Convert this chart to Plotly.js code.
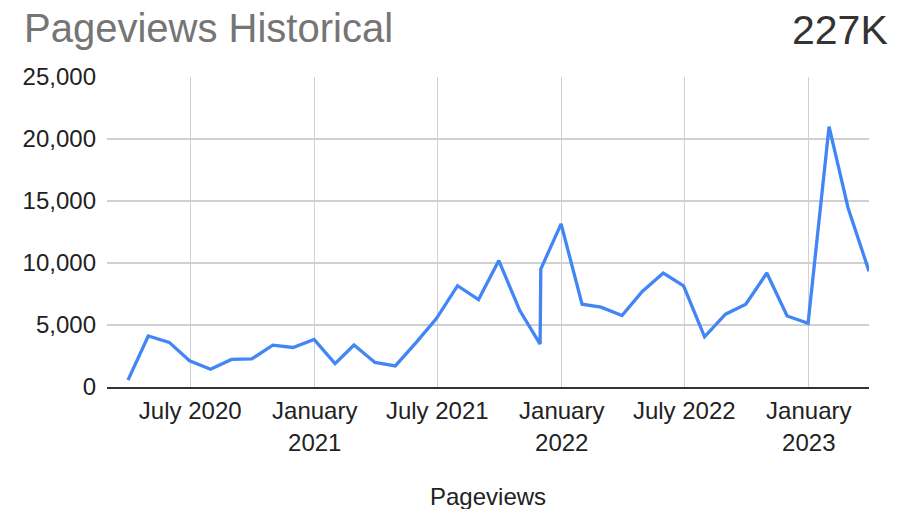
<!DOCTYPE html>
<html>
<head>
<meta charset="utf-8">
<script src="https://cdn.plot.ly/plotly-3.0.1.min.js"></script>
<style>html,body{margin:0;padding:0;background:#fff;}#chart{width:899px;height:509px;}</style>
</head>
<body>
<div id="chart"></div>
<script>
const dates = [
  "2020-03-31","2020-04-30","2020-05-31","2020-06-30","2020-07-31","2020-08-31","2020-09-30","2020-10-31","2020-11-30","2020-12-31",
  "2021-01-31","2021-02-28","2021-03-31","2021-04-30","2021-05-31","2021-06-30","2021-07-31","2021-08-31","2021-09-30","2021-10-31",
  "2021-11-30","2021-12-01","2021-12-31","2022-01-31","2022-02-28","2022-03-31","2022-04-30","2022-05-31","2022-06-30","2022-07-31",
  "2022-08-31","2022-09-30","2022-10-31","2022-11-30","2022-12-31","2023-01-31","2023-02-28","2023-03-31"
];
const pageviews = [
  550,4110,3600,2110,1430,2220,2270,3380,3190,3840,
  1890,3380,1980,1700,3600,5540,8170,7050,10200,6160,
  3460,9510,13150,6680,6440,5760,7700,9190,8160,4050,
  5870,6680,9190,5730,5140,21000,14460,9330
];
const tickDates = ["2020-07-01","2021-01-01","2021-07-01","2022-01-01","2022-07-01","2023-01-01"];
const tickLabels = ["July 2020","January<br>2021","July 2021","January<br>2022","July 2022","January<br>2023"];
const yTicks = [0,5000,10000,15000,20000,25000];
const yLabels = ["0","5,000","10,000","15,000","20,000","25,000"];
const chartTitle = "Pageviews Historical";
const totalLabel = "227K";
const seriesName = "Pageviews";

const font = "Liberation Sans, Arial, sans-serif";
Plotly.newPlot("chart", [{
  x: dates, y: pageviews, type: "scatter", mode: "lines",
  line: {color: "#4285F4", width: 3.3}, name: seriesName, hoverinfo: "x+y"
}], {
  width: 899, height: 509,
  margin: {l: 107, r: 30, t: 77, b: 122},
  paper_bgcolor: "#fff", plot_bgcolor: "#fff",
  showlegend: false,
  font: {family: font, size: 24, color: "#222"},
  xaxis: {
    type: "date", range: ["2020-02-29", "2023-03-31"],
    tickmode: "array", tickvals: tickDates, ticktext: tickLabels,
    showgrid: true, gridcolor: "#d0d0d0", gridwidth: 1.3,
    showline: true, linecolor: "#333", linewidth: 1.5,
    zeroline: false, ticks: "", ticklabelstandoff: 2,
    tickfont: {family: font, size: 24, color: "#222"}
  },
  yaxis: {
    range: [0, 25000], tickmode: "array", tickvals: yTicks, ticktext: yLabels,
    showgrid: true, gridcolor: "#d0d0d0", gridwidth: 1.3,
    zeroline: false, showline: false, ticks: "", ticklabelstandoff: 10,
    tickfont: {family: font, size: 24, color: "#222"}
  },
  annotations: [
    {text: chartTitle, xref: "paper", yref: "paper", x: (22-107)/762, y: (387-28)/310,
     xanchor: "left", yanchor: "middle", showarrow: false,
     font: {family: font, size: 40, color: "#757575"}},
    {text: totalLabel, xref: "paper", yref: "paper", x: (890-107)/762, y: (387-30)/310,
     xanchor: "right", yanchor: "middle", showarrow: false,
     font: {family: font, size: 41, color: "#333"}},
    {text: seriesName, xref: "paper", yref: "paper", x: 0.5, y: (387-496)/310,
     xanchor: "center", yanchor: "middle", showarrow: false,
     font: {family: font, size: 24, color: "#222"}}
  ]
}, {displayModeBar: false, staticPlot: true});
</script>
</body>
</html>
